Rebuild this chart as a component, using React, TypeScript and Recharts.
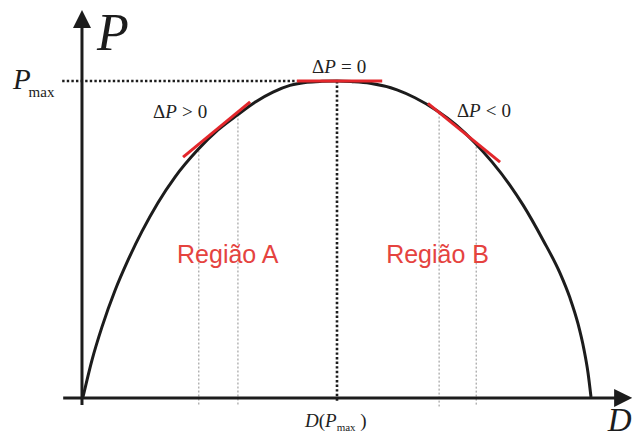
import React from 'react';
import { LineChart, Line, XAxis, YAxis, ReferenceLine, ReferenceDot } from 'recharts';

// D in % of the span between the two zeros, P in % of Pmax
const curveD = [
  0, 1.77, 3.74, 6.3, 8.86, 11.61, 14.76, 18.11, 22.64, 26.57, 30.51, 33.86, 37.4, 40.75, 44.09, 47.05, 50,
  52.95, 56.5, 61.81, 65.35, 69.69, 73.43, 77.17, 80.51, 84.06, 86.61, 90.55, 93.9, 95.87, 97.44, 98.62, 99.41, 100,
];
const curveP = [
  0, 11.7, 22.2, 33.7, 43.3, 52.4, 61.5, 69.6, 78.3, 84.5, 89.4, 93.3, 96.5, 98.6, 99.6, 99.9, 100,
  99.8, 99.3, 97.2, 94.7, 90.6, 86.1, 80.4, 74.4, 67.0, 60.8, 49.7, 39.2, 31.3, 23.2, 15.0, 7.7, 0,
];

// red tangent pieces: [D, P] start and end
const tangentA = [[19.7, 75.9], [32.9, 93.4]];
const tangentTop = [[42.1, 100], [58.9, 100]];
const tangentB = [[67.9, 92.9], [82.1, 74.3]];

// thin grey guides under the two tangents
const guideD = [22.8, 30.5, 70.1, 77.4];
const guideTop = [78, 89.4, 90, 80.5];

const peakD = 50;
const peakP = 100;

const curve = curveD.map((d, i) => ({ d, p: curveP[i] }));

const INK = '#1c1c1c';
const RED = '#e3262b';
const SERIF = '"Liberation Serif", "Times New Roman", serif';
const SANS = '"Liberation Sans", Arial, sans-serif';

const arrow = (dir: 'up' | 'right') => (props: any) => {
  const { x1, y1, x2, y2 } = props;
  const half = 9;
  const len = 18;
  const head =
    dir === 'up'
      ? `${x2},${y2} ${x2 - half},${y2 + len} ${x2 + half},${y2 + len}`
      : `${x2},${y2} ${x2 - len},${y2 - half} ${x2 - len},${y2 + half}`;
  return (
    <g>
      <line
        x1={x1}
        y1={y1}
        x2={dir === 'up' ? x2 : x2 - len + 2}
        y2={dir === 'up' ? y2 + len - 2 : y2}
        stroke={INK}
        strokeWidth={3}
      />
      <polygon points={head} fill={INK} />
    </g>
  );
};

// bold dotted guide, drawn as its own line so the dash styling sticks
const dottedLine = (props: any) => (
  <line
    x1={props.x1}
    y1={props.y1}
    x2={props.x2}
    y2={props.y2}
    stroke={INK}
    strokeWidth={2.6}
    strokeDasharray="2.4 2.2"
  />
);

const text = (render: (x: number, y: number) => React.ReactNode) => (p: any) => <g>{render(p.cx, p.cy)}</g>;

const deltaLabel = (sign: string) =>
  text((x, y) => (
    <text x={x} y={y} fontFamily={SERIF} fontSize={19} fill="#222">
      <tspan>Δ</tspan>
      <tspan fontStyle="italic">P</tspan>
      <tspan dx={5}>{sign}</tspan>
      <tspan dx={5}>0</tspan>
    </text>
  ));

const regionLabel = (name: string) =>
  text((x, y) => (
    <text x={x} y={y} textAnchor="middle" fontFamily={SANS} fontSize={25} fill="#e5433f">
      {name}
    </text>
  ));

export default function App() {
  return (
    <div style={{ position: 'absolute', left: 0, top: 0, background: '#fff' }}>
      <LineChart width={632} height={439} data={curve} margin={{ top: 81, right: 41, bottom: 42, left: 83 }}>
        <XAxis type="number" dataKey="d" domain={[0, 100]} hide height={0} />
        <YAxis type="number" domain={[0, 100]} hide width={0} />

        {guideD.map((d, i) => (
          <ReferenceLine
            key={d}
            segment={[{ x: d, y: guideTop[i] }, { x: d, y: -3 }]}
            ifOverflow="visible"
            stroke="#8f8f8f"
            strokeWidth={1}
            strokeDasharray="2 2"
          />
        ))}

        {/* axes with arrow heads */}
        <ReferenceLine segment={[{ x: -0.2, y: -2.5 }, { x: -0.2, y: 122.5 }]} ifOverflow="visible" shape={arrow('up')} />
        <ReferenceLine segment={[{ x: -3.9, y: -0.3 }, { x: 108.1, y: -0.3 }]} ifOverflow="visible" shape={arrow('right')} />

        {/* dotted Pmax guides */}
        <ReferenceLine
          segment={[{ x: -4.1, y: peakP }, { x: tangentTop[0][0], y: peakP }]}
          ifOverflow="visible"
          shape={dottedLine}
        />
        <ReferenceLine
          segment={[{ x: peakD, y: peakP }, { x: peakD, y: -1.6 }]}
          ifOverflow="visible"
          shape={dottedLine}
        />

        <Line type="monotone" dataKey="p" stroke={INK} strokeWidth={3} dot={false} isAnimationActive={false} />

        {[tangentA, tangentTop, tangentB].map((t, i) => (
          <ReferenceLine
            key={i}
            segment={[{ x: t[0][0], y: t[0][1] }, { x: t[1][0], y: t[1][1] }]}
            ifOverflow="visible"
            stroke={RED}
            strokeWidth={3}
          />
        ))}

        {/* labels */}
        <ReferenceDot
          x={2.76}
          y={109.8}
          ifOverflow="visible"
          shape={text((x, y) => (
            <text x={x} y={y} fontFamily={SERIF} fontStyle="italic" fontSize={52} fill={INK}>P</text>
          ))}
        />
        <ReferenceDot
          x={-13.8}
          y={97.5}
          ifOverflow="visible"
          shape={text((x, y) => (
            <text x={x} y={y} fontFamily={SERIF} fill={INK}>
              <tspan fontStyle="italic" fontSize={29}>P</tspan>
              <tspan fontSize={15} dx={-2} dy={8}>max</tspan>
            </text>
          ))}
        />
        <ReferenceDot x={13.8} y={88.3} ifOverflow="visible" shape={deltaLabel('>')} />
        <ReferenceDot x={45.1} y={102.5} ifOverflow="visible" shape={deltaLabel('=')} />
        <ReferenceDot x={73.6} y={88.6} ifOverflow="visible" shape={deltaLabel('<')} />
        <ReferenceDot x={28.5} y={42.4} ifOverflow="visible" shape={regionLabel('Região A')} />
        <ReferenceDot x={69.8} y={42.4} ifOverflow="visible" shape={regionLabel('Região B')} />
        <ReferenceDot
          x={43.7}
          y={-9.5}
          ifOverflow="visible"
          shape={text((x, y) => (
            <text x={x} y={y} fontFamily={SERIF} fontSize={19} fill="#222">
              <tspan fontStyle="italic">D</tspan>
              <tspan>(</tspan>
              <tspan fontStyle="italic">P</tspan>
              <tspan fontSize={11} dy={4}>max</tspan>
              <tspan dy={-4}> )</tspan>
            </text>
          ))}
        />
        <ReferenceDot
          x={103.3}
          y={-10.8}
          ifOverflow="visible"
          shape={text((x, y) => (
            <text x={x} y={y} fontFamily={SERIF} fontStyle="italic" fontSize={33} fill={INK}>D</text>
          ))}
        />
      </LineChart>
    </div>
  );
}
